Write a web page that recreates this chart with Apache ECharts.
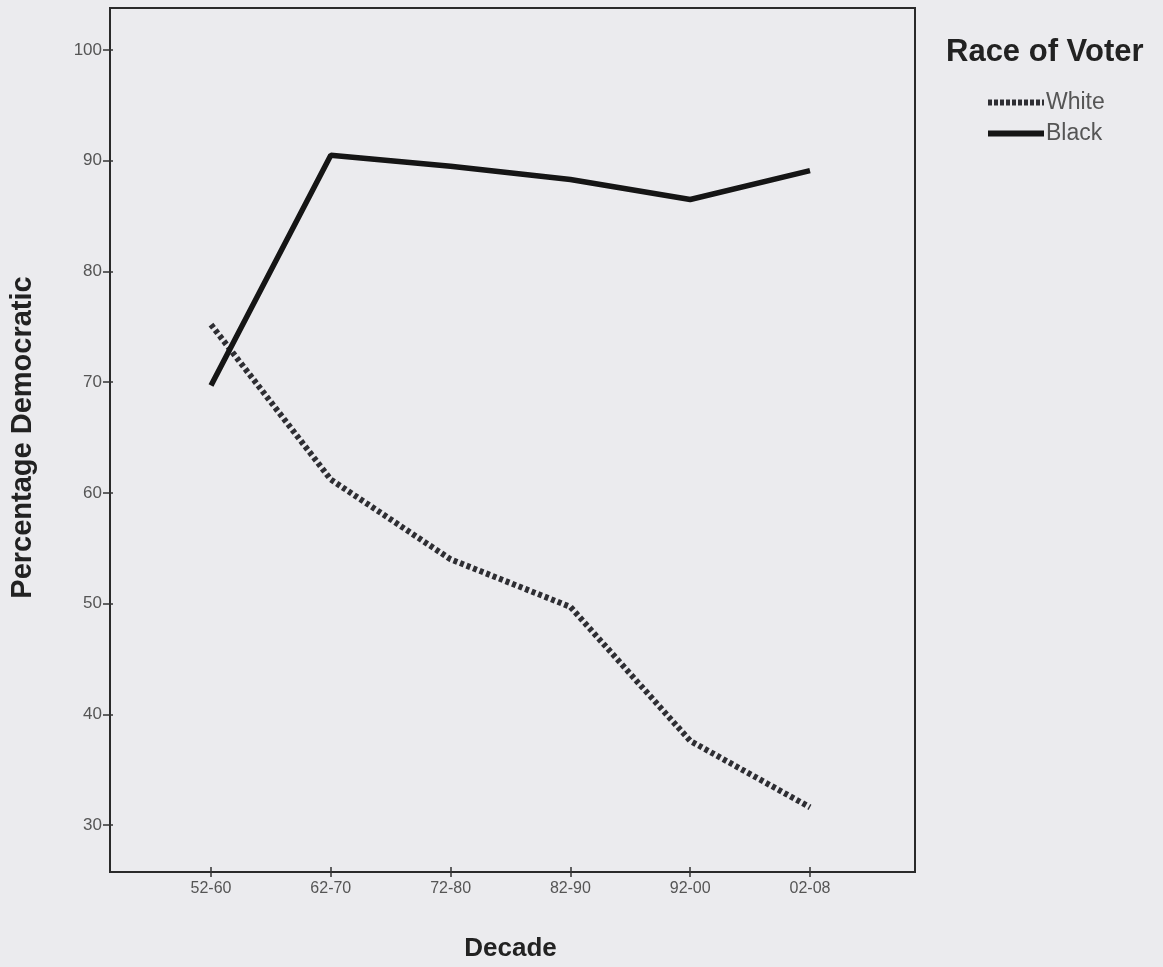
<!DOCTYPE html>
<html><head><meta charset="utf-8">
<script src="https://cdn.jsdelivr.net/npm/echarts@6/dist/echarts.min.js"></script>
<style>html,body{margin:0;padding:0;background:#ebebee;}#c{width:1163px;height:967px;}</style>
</head><body><div id="c"></div>
<script>
const decades = ['52-60', '62-70', '72-80', '82-90', '92-00', '02-08'];
const whiteVoters = [75.2, 61.2, 54.0, 49.7, 37.6, 31.6];
const blackVoters = [69.7, 90.5, 89.5, 88.3, 86.5, 89.1];
const yMin = 30, yMax = 100, yStep = 10;

const FONT = 'Liberation Sans';
const chart = echarts.init(document.getElementById('c'));
chart.setOption({
  backgroundColor: '#ebebee',
  animation: false,
  title: {
    text: 'Race of Voter', left: 941, top: 32,
    textStyle: { fontFamily: FONT, fontSize: 31, fontWeight: 'bold', color: '#222' }
  },
  legend: {
    orient: 'vertical', left: 980, top: 86, itemGap: 8,
    itemWidth: 56, itemHeight: 22, itemGap: 8,
    itemStyle: { color: 'transparent', borderColor: 'transparent', borderWidth: 0 },
    textStyle: { fontFamily: FONT, fontSize: 23, color: '#555', padding: [0, 0, 0, -3] },
    data: [
      { name: 'White', lineStyle: { width: 6, type: [4, 2], color: '#2e2e33' } },
      { name: 'Black', lineStyle: { width: 6, type: 'solid', color: '#151515' } }
    ]
  },
  grid: [
    { left: 110, right: 248, top: 8, bottom: 95, show: true, borderColor: '#2a2a2a', borderWidth: 2, backgroundColor: 'transparent' },
    { left: 208, right: 353, top: 50, bottom: 137 }
  ],
  xAxis: [
    { gridIndex: 0, type: 'value', show: false, min: 0, max: 1 },
    {
      gridIndex: 1, type: 'category', data: decades, boundaryGap: false, offset: 42,
      name: 'Decade', nameLocation: 'middle', nameGap: 69,
      nameTextStyle: { fontFamily: FONT, fontSize: 26, fontWeight: 'bold', color: '#222' },
      axisLine: { show: false },
      axisTick: { show: true, length: 10, lineStyle: { color: '#333', width: 1.5 }, alignWithLabel: true },
      axisLabel: { fontFamily: FONT, fontSize: 16, color: '#555', margin: 14 },
      splitLine: { show: false }
    }
  ],
  yAxis: [
    { gridIndex: 0, type: 'value', show: false, min: 0, max: 1 },
    {
      gridIndex: 1, type: 'value', min: yMin, max: yMax, interval: yStep, offset: 98,
      name: 'Percentage Democratic', nameLocation: 'middle', nameGap: 76,
      nameTextStyle: { fontFamily: FONT, fontSize: 29, fontWeight: 'bold', color: '#222' },
      axisLine: { show: false },
      axisTick: { show: true, length: 10, lineStyle: { color: '#333', width: 1.5 } },
      axisLabel: { fontFamily: FONT, fontSize: 17, color: '#555', margin: 11 },
      splitLine: { show: false }
    }
  ],
  series: [
    {
      name: 'White', type: 'line', xAxisIndex: 1, yAxisIndex: 1, data: whiteVoters,
      symbol: 'none', lineStyle: { color: '#2e2e33', width: 6, type: [4, 3] },
      itemStyle: { color: '#2e2e33' }
    },
    {
      name: 'Black', type: 'line', xAxisIndex: 1, yAxisIndex: 1, data: blackVoters,
      symbol: 'none', lineStyle: { color: '#151515', width: 5.5 },
      itemStyle: { color: '#151515' }
    }
  ]
});
</script></body></html>
